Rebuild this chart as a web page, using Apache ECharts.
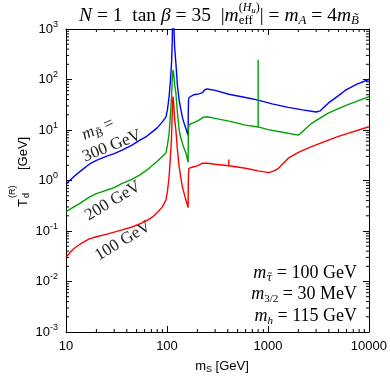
<!DOCTYPE html>
<html><head><meta charset="utf-8">
<script src="https://cdn.jsdelivr.net/npm/echarts@6/dist/echarts.min.js"></script>
<style>html,body{margin:0;padding:0;background:#fff}#c{width:390px;height:382px}</style>
</head><body><div id="c"></div>
<script>
// ---- data ----
const xTickValues = [10, 100, 1000, 10000];
const yTickExponents = [-3, -2, -1, 0, 1, 2, 3];

const mS_300 = [10, 11, 12, 14, 17, 20, 25, 30, 36, 45, 54, 63, 72, 80, 90, 97.6, 101, 105, 108, 111, 112.5, 114, 115, 116, 117.5, 119, 122.5, 127, 132, 137, 142, 148, 154, 158, 162, 162.5, 163.5, 165, 170, 185, 192, 196, 200, 208, 215, 225, 235, 250, 300, 410, 600, 800, 1100, 1590, 2200, 3000, 3300, 3950, 5000, 5760, 7500, 10000];
const Td_300 = [0.85, 1.02, 1.2, 1.55, 2.1, 2.5, 3.0, 3.4, 4.0, 5.0, 6.3, 7.5, 9.3, 11, 14.5, 18, 25, 46, 90, 210, 500, 1500, 5000, 1500, 900, 450, 210, 75, 39, 26, 18, 13.5, 10.7, 9, 7.9, 20, 38, 44, 47, 50, 52, 51, 52, 52, 52, 55, 62, 65, 61, 51, 44, 39, 33, 28, 25, 22.7, 24, 34, 48, 60, 80, 100];

const mS_200 = [10, 11, 12, 14, 17, 20, 25, 30, 36, 45, 54, 63, 72, 80, 90, 97.6, 101, 105, 108, 111, 112.5, 114, 115, 116, 117.5, 119, 122.5, 127, 132, 137, 142, 148, 154, 158, 162, 162.5, 163.5, 165, 175, 192, 196, 205, 230, 250, 300, 410, 600, 800, 800, 800, 1000, 1400, 2000, 2100, 2400, 2700, 3950, 5760, 10000];
const Td_200 = [0.24, 0.27, 0.30, 0.36, 0.47, 0.55, 0.64, 0.72, 0.88, 1.05, 1.29, 1.6, 2.0, 2.4, 3.0, 3.5, 5, 8.5, 19, 46, 90, 140, 155, 140, 110, 80, 54, 22, 10, 7, 5.5, 4.3, 3.5, 2.8, 2.3, 6, 10, 12.5, 13.5, 14.5, 14, 15.5, 18, 18.3, 17, 15, 12.5, 11.5, 245, 11.5, 10.2, 9, 7.9, 8.5, 11, 13.5, 21.5, 30, 46];

const mS_100 = [10, 11, 12, 14, 17, 20, 25, 30, 36, 45, 54, 63, 72, 80, 90, 97.6, 101, 105, 108, 111, 112.5, 114, 115, 116, 117.5, 119, 122.5, 127, 132, 137, 142, 148, 154, 158, 162, 162.5, 163.5, 165, 180, 192, 196, 205, 225, 250, 300, 410, 410, 410, 600, 800, 1015, 1150, 1270, 1590, 2000, 2700, 4900, 10000];
const Td_100 = [0.03, 0.038, 0.045, 0.056, 0.07, 0.077, 0.086, 0.095, 0.105, 0.12, 0.138, 0.16, 0.19, 0.23, 0.30, 0.41, 0.6, 1.2, 2.8, 7.4, 18, 38, 46, 38, 25, 17, 10, 4, 1.87, 1.15, 0.76, 0.55, 0.41, 0.34, 0.29, 0.8, 1.4, 1.74, 1.85, 1.9, 1.85, 2.0, 2.2, 2.2, 2.1, 1.96, 2.6, 1.96, 1.75, 1.55, 1.43, 1.55, 1.74, 2.77, 3.6, 4.7, 7.4, 11.6];

const curveLabels = ['300 GeV', '200 GeV', '100 GeV'];
const curveColors = ['#0000ff', '#00a000', '#ff0000'];

// minor tick values (log decades 2..9)
const xMinor = [], yMinor = [];
for (let d = 1; d < 4; d++) for (let k = 2; k <= 9; k++) xMinor.push(k * Math.pow(10, d));
for (let d = -3; d < 3; d++) for (let k = 2; k <= 9; k++) yMinor.push(k * Math.pow(10, d));

const zip = (a, b) => a.map((v, i) => [v, b[i]]);
const SERIF = '"Liberation Serif","DejaVu Serif",serif';
const SANS = '"Liberation Sans",Arial,Helvetica,sans-serif';

// ---- small math-text layout helper (measures pieces, builds a group) ----
const mctx = document.createElement('canvas').getContext('2d');
function mathGroup(pieces, cx, cy, base, align, rot, fill) {
  let x = 0, lastStart = 0, ovX = null;
  const kids = [];
  for (const p of pieces) {
    const size = p.s || base;
    const font = (p.it ? 'italic ' : '') + size + 'px ' + (p.fam || SERIF);
    mctx.font = font;
    const w = mctx.measureText(p.t).width;
    let px;
    if (p.ov === 'start') { ovX = lastStart; px = ovX; ovX += w; }
    else if (p.ov === 'cont') { px = ovX; ovX += w; }
    else {
      if (ovX !== null) { x = Math.max(x, ovX); ovX = null; }
      px = x; lastStart = x; x += w;
    }
    kids.push({type: 'text', x: px, y: p.dy || 0,
      style: {text: p.t, font: font, fill: fill || '#000', align: 'left', verticalAlign: 'middle'}});
  }
  if (ovX !== null) x = Math.max(x, ovX);
  const shift = align === 'center' ? -x / 2 : align === 'right' ? -x : 0;
  kids.forEach(k => { k.x += shift; });
  return {type: 'group', x: cx, y: cy, rotation: rot || 0, children: kids, z: 10};
}

const chart = echarts.init(document.getElementById('c'), null, {renderer: 'canvas'});
const yMin = 1e-3, yMax = 1e3, xMin = 10, xMax = 1e4;

function axisCommon() {
  return {
    axisLine: {show: true, lineStyle: {color: '#000', width: 1}},
    axisTick: {show: true, inside: true, length: 6, lineStyle: {color: '#000'}},
    splitLine: {show: false},
    minorTick: {show: false}
  };
}

const TITLE = [
  {t: 'N', it: 1}, {t: ' = 1  tan '}, {t: 'β', it: 1}, {t: ' = 35  |'}, {t: 'm', it: 1},
  {t: 'eff', s: 13, dy: 5},
  {t: '(', s: 12, dy: -8, ov: 'start'}, {t: 'H', s: 12, dy: -8, it: 1, ov: 'cont'},
  {t: 'u', s: 9, dy: -5, it: 1, ov: 'cont'}, {t: ')', s: 12, dy: -8, ov: 'cont'},
  {t: '| = '}, {t: 'm', it: 1}, {t: 'A', s: 13, dy: 5, it: 1}, {t: ' = 4'}, {t: 'm', it: 1},
  {t: 'B̃', s: 13, dy: 5, it: 1}
];

const option = {
  animation: false,
  backgroundColor: '#fff',
  grid: {left: 66, right: 19, top: 29, bottom: 50, show: false},
  xAxis: [
    Object.assign({type: 'log', logBase: 10, min: xMin, max: xMax, position: 'bottom',
      axisLabel: {color: '#000', fontFamily: SANS, fontSize: 13, margin: 8,
        formatter: v => String(Math.round(v))}}, axisCommon()),
    Object.assign({type: 'log', logBase: 10, min: xMin, max: xMax, position: 'top',
      axisLabel: {show: false}}, axisCommon())
  ],
  yAxis: [
    Object.assign({type: 'log', logBase: 10, min: yMin, max: yMax, position: 'left',
      axisLabel: {color: '#000', fontFamily: SANS, fontSize: 13, margin: 8,
        formatter: v => '10{s|' + Math.round(Math.log10(v)) + '}',
        rich: {s: {fontSize: 9, fontFamily: SANS, color: '#000', padding: [0, 0, 9, 0]}}}}, axisCommon()),
    Object.assign({type: 'log', logBase: 10, min: yMin, max: yMax, position: 'right',
      axisLabel: {show: false}}, axisCommon())
  ],
  series: [
    {type: 'line', name: curveLabels[0], data: zip(mS_300, Td_300), showSymbol: false, symbol: 'none',
      lineStyle: {color: curveColors[0], width: 1.4}, itemStyle: {color: curveColors[0]}, clip: true, z: 3},
    {type: 'line', name: curveLabels[1], data: zip(mS_200, Td_200), showSymbol: false, symbol: 'none',
      lineStyle: {color: curveColors[1], width: 1.4}, itemStyle: {color: curveColors[1]}, clip: true, z: 3},
    {type: 'line', name: curveLabels[2], data: zip(mS_100, Td_100), showSymbol: false, symbol: 'none',
      lineStyle: {color: curveColors[2], width: 1.4}, itemStyle: {color: curveColors[2]}, clip: true, z: 3},
    {type: 'custom', data: xMinor.map(v => [v, yMin]), clip: false, silent: true, z: 4,
      renderItem: (params, api) => {
        const v = api.value(0);
        const b = api.coord([v, yMin]);
        const t = api.coord([v, yMax]);
        return {type: 'group', children: [
          {type: 'line', shape: {x1: b[0], y1: b[1], x2: b[0], y2: b[1] - 3}, style: {stroke: '#000', lineWidth: 1}},
          {type: 'line', shape: {x1: t[0], y1: t[1], x2: t[0], y2: t[1] + 3}, style: {stroke: '#000', lineWidth: 1}}
        ]};
      }},
    {type: 'custom', data: yMinor.map(v => [xMin, v]), clip: false, silent: true, z: 4,
      renderItem: (params, api) => {
        const v = api.value(1);
        const l = api.coord([xMin, v]);
        const r = api.coord([xMax, v]);
        return {type: 'group', children: [
          {type: 'line', shape: {x1: l[0], y1: l[1], x2: l[0] + 3, y2: l[1]}, style: {stroke: '#000', lineWidth: 1}},
          {type: 'line', shape: {x1: r[0], y1: r[1], x2: r[0] - 3, y2: r[1]}, style: {stroke: '#000', lineWidth: 1}}
        ]};
      }}
  ],
  graphic: [
    mathGroup(TITLE, 219, 16, 19.5, 'center', 0, '#000'),
    // x axis name
    mathGroup([{t: 'm', fam: SANS}, {t: 'S', s: 9, dy: 4, fam: SANS}, {t: ' [GeV]', fam: SANS}], 222, 366, 13, 'center', 0, '#000'),
    // y axis name (rotated)
    {type: 'group', x: 23, y: 171, rotation: Math.PI / 2, children: [
      {type: 'text', x: -36, y: 0, style: {text: 'T', font: '13px ' + SANS, fill: '#000', align: 'left', verticalAlign: 'middle'}},
      {type: 'text', x: -27, y: 4, style: {text: 'd', font: '9px ' + SANS, fill: '#000', align: 'left', verticalAlign: 'middle'}},
      {type: 'text', x: -27, y: -10, style: {text: '(R)', font: '9px ' + SANS, fill: '#000', align: 'left', verticalAlign: 'middle'}},
      {type: 'text', x: 1, y: 0, style: {text: '[GeV]', font: '13px ' + SANS, fill: '#000', align: 'left', verticalAlign: 'middle'}}
    ]},
    // curve labels
    mathGroup([{t: 'm', it: 1}, {t: 'B̃', s: 12, dy: 5, it: 1}, {t: ' ='}], 98, 129, 17, 'center', 24 * Math.PI / 180, '#222'),
    mathGroup([{t: curveLabels[0]}], 112, 146, 17, 'center', 22 * Math.PI / 180, '#222'),
    mathGroup([{t: curveLabels[1]}], 113, 201, 17, 'center', 31 * Math.PI / 180, '#222'),
    mathGroup([{t: curveLabels[2]}], 123, 241, 17, 'center', 31 * Math.PI / 180, '#222'),
    // parameter block
    mathGroup([{t: 'm', it: 1}, {t: 'τ̃', s: 11, dy: 5, it: 1, fam: '"DejaVu Serif",serif'}, {t: ' = 100 GeV'}], 357, 273, 18, 'right', 0, '#000'),
    mathGroup([{t: 'm', it: 1}, {t: '3/2', s: 11, dy: 5}, {t: ' = 30 MeV'}], 357, 294, 18, 'right', 0, '#000'),
    mathGroup([{t: 'm', it: 1}, {t: 'h', s: 11, dy: 5, it: 1}, {t: ' = 115 GeV'}], 357, 316, 18, 'right', 0, '#000')
  ]
};
chart.setOption(option);
</script>
</body></html>
